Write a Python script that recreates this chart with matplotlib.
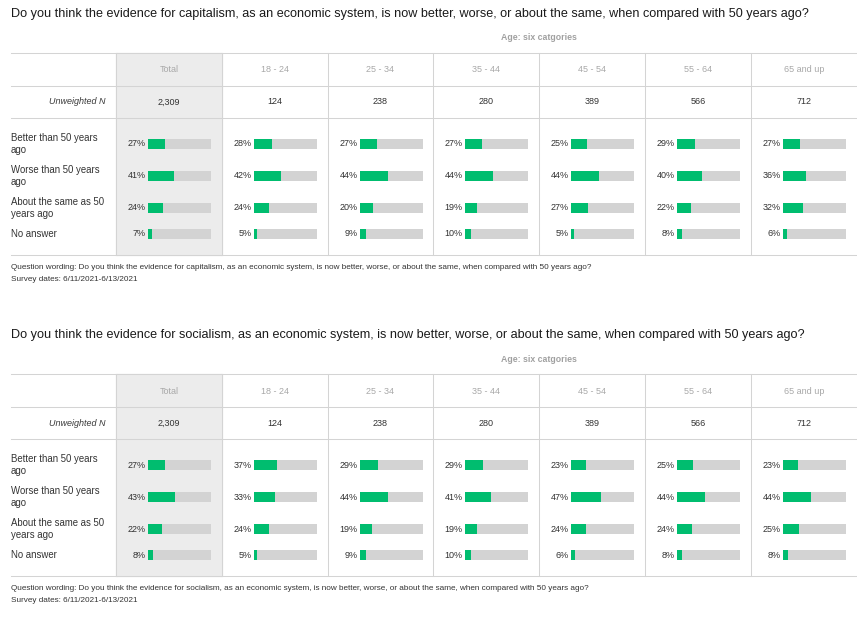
import matplotlib
matplotlib.use('Agg')
import matplotlib.pyplot as plt

# categorias e dados
grupos = ['Total', '18 - 24', '25 - 34', '35 - 44', '45 - 54', '55 - 64', '65 and up']
n_pesos = ['2,309', '124', '238', '280', '389', '566', '712']
respostas = ['Better than 50 years\nago', 'Worse than 50 years\nago',
             'About the same as 50\nyears ago', 'No answer']

# capitalismo: uma lista por resposta, um valor por grupo
cap_melhor = [27, 28, 27, 27, 25, 29, 27]
cap_pior = [41, 42, 44, 44, 44, 40, 36]
cap_igual = [24, 24, 20, 19, 27, 22, 32]
cap_sem = [7, 5, 9, 10, 5, 8, 6]

# socialismo
soc_melhor = [27, 37, 29, 29, 23, 25, 23]
soc_pior = [43, 33, 44, 41, 47, 44, 44]
soc_igual = [22, 24, 19, 19, 24, 24, 25]
soc_sem = [8, 5, 9, 10, 6, 8, 8]

titulos = [
    'Do you think the evidence for capitalism, as an economic system, is now better, worse, or about the same, when compared with 50 years ago?',
    'Do you think the evidence for socialism, as an economic system, is now better, worse, or about the same, when compared with 50 years ago?',
]
datas = 'Survey dates: 6/11/2021-6/13/2021'

VERDE = '#00bd6f'
CINZA_BARRA = '#d3d3d3'
CINZA_FUNDO = '#ececec'
LINHA = '#d4d4d4'
FONTE = ['Liberation Sans', 'DejaVu Sans']
TAM = 6.5  # tamanho do texto da tabela

fig = plt.figure(figsize=(8.57, 6.25), dpi=100)
ax = fig.add_axes([0, 0, 1, 1])
ax.set_xlim(0, 857)
ax.set_ylim(625, 0)
ax.axis('off')

# limites das colunas (em pixeis)
col_x = [116, 222, 328, 433, 539, 645, 751, 857]
linhas_y = [144, 176, 208, 234]


def desenhar_painel(y0, titulo, series):
    ax.text(11, y0 + 14, titulo, fontsize=9.1, family=FONTE, color='#1a1a1a', va='center')
    ax.text(539, y0 + 38, 'Age: six catgories', fontsize=6.3, family=FONTE,
            color='#a0a0a0', ha='center', va='center', fontweight='bold')

    topo, base = y0 + 53, y0 + 255
    # fundo da coluna Total
    ax.add_patch(plt.Rectangle((col_x[0], topo), col_x[1] - col_x[0], base - topo,
                               color=CINZA_FUNDO, zorder=0))
    for yy in [topo, y0 + 86, y0 + 118, base]:
        ax.plot([11, 857], [yy, yy], color=LINHA, lw=0.75, zorder=1)
    for xx in col_x[:-1]:
        ax.plot([xx, xx], [topo, base], color=LINHA, lw=0.75, zorder=1)

    ax.text(106, y0 + 102, 'Unweighted N', fontsize=TAM, family=FONTE, style='italic',
            color='#3a3a3a', ha='right', va='center')
    for i, g in enumerate(grupos):
        cx = (col_x[i] + col_x[i + 1]) / 2
        ax.text(cx, y0 + 70, g, fontsize=TAM, family=FONTE, color='#a8a8a8',
                ha='center', va='center')
        ax.text(cx, y0 + 102, n_pesos[i], fontsize=TAM, family=FONTE, color='#333333',
                ha='center', va='center')

    for r, resp in enumerate(respostas):
        yy = y0 + linhas_y[r]
        ax.text(11, yy, resp, fontsize=6.9, family=FONTE, color='#333333',
                va='center', linespacing=1.25)
        valores = series[r]
        esquerda = [c + 32 for c in col_x[:-1]]
        ax.barh([yy] * 7, [63.5] * 7, left=esquerda, height=10, color=CINZA_BARRA, zorder=2)
        ax.barh([yy] * 7, [v / 100 * 63.5 for v in valores], left=esquerda, height=10,
                color=VERDE, zorder=3)
        for i, v in enumerate(valores):
            ax.text(esquerda[i] - 2.5, yy, f'{v}%', fontsize=TAM, family=FONTE,
                    color='#333333', ha='right', va='center')

    ax.text(11, y0 + 267.5, 'Question wording: ' + titulo, fontsize=5.85, family=FONTE,
            color='#333333', va='center')
    ax.text(11, y0 + 279.5, datas, fontsize=5.85, family=FONTE, color='#333333', va='center')


desenhar_painel(0, titulos[0], [cap_melhor, cap_pior, cap_igual, cap_sem])
desenhar_painel(321, titulos[1], [soc_melhor, soc_pior, soc_igual, soc_sem])

fig.savefig('out.png', dpi=100, facecolor='white')
